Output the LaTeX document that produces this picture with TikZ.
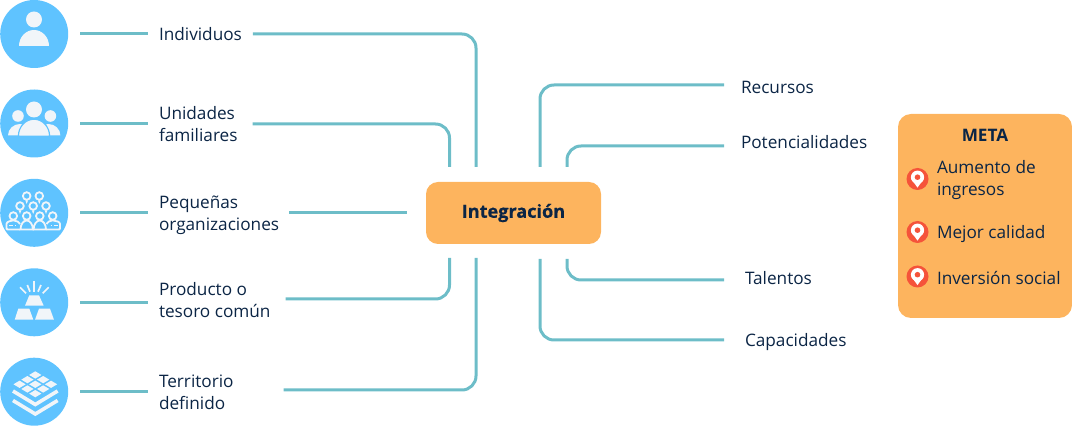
\documentclass[tikz,border=0pt]{standalone}
\usepackage{fontspec}
\setmainfont{Open Sans}
\usetikzlibrary{calc}
\definecolor{teal1}{HTML}{6DBDC8}
\definecolor{sky1}{HTML}{5FC3FF}
\definecolor{orange1}{HTML}{FDB45E}
\definecolor{ink1}{HTML}{0B2545}
\definecolor{pinred}{HTML}{F5533A}
\definecolor{iconw}{HTML}{F1F5F9}
\newcommand{\halfdisc}[4]{({#1-#3},{#2}) .. controls ({#1-#3},{#2-.55*#4}) and ({#1-.55*#3},{#2-#4}) .. ({#1},{#2-#4}) .. controls ({#1+.55*#3},{#2-#4}) and ({#1+#3},{#2-.55*#4}) .. ({#1+#3},{#2}) -- cycle}
\tikzset{
  x=1pt,y=-1pt,
  link/.style={draw=teal1,line width=3pt,rounded corners=14pt},
  lab/.style={anchor=west,inner sep=0pt,outer sep=0pt,align=left,text=ink1,font=\fontsize{17.2}{22}\selectfont},
  disc/.style={circle,fill=sky1,minimum size=68pt,inner sep=0pt,outer sep=0pt},
  hubbox/.style={rounded corners=12pt,fill=orange1,minimum width=175pt,minimum height=62pt,inner sep=0pt,outer sep=0pt,text=ink1,font=\fontsize{18.1}{20}\selectfont\bfseries\addfontfeature{FakeBold=0.6}},
  metabox/.style={rounded corners=13pt,fill=orange1,minimum width=174pt,minimum height=204pt,inner sep=0pt,outer sep=0pt},
  metahead/.style={inner sep=0pt,outer sep=0pt,text=ink1,font=\fontsize{17.2}{20}\selectfont\bfseries},
  pinnode/.style={circle,fill=pinred,minimum size=22pt,inner sep=0pt,outer sep=0pt},
  ic/.style={fill=iconw},
  icl/.style={draw=iconw,line width=1.8pt},
  ray/.style={draw=iconw,line width=1.7pt},
  chev/.style={draw=iconw,line width=3.6pt,miter limit=10}
}
\newcommand{\pinmark}[1]{%
  \fill[white] ($(#1.center)+(0,-1.8)$) circle (6.6);
  \fill[white] ($(#1.center)+(-6.2,0)$) -- ($(#1.center)+(0,8.6)$) -- ($(#1.center)+(6.2,0)$) -- cycle;
  \fill[pinred] ($(#1.center)+(0,-1.8)$) circle (2.8);}
\begin{document}
\begin{tikzpicture}
\useasboundingbox (0,0) rectangle (1072,427);
% discs
\node[disc] (c1) at (34.2,34) {};
\node[disc] (c2) at (34.2,123.5) {};
\node[disc] (c3) at (34.2,212.8) {};
\node[disc] (c4) at (34.2,302.3) {};
\node[disc] (c5) at (34.2,391.7) {};
% labels
\node[lab] (t1) at (159,34.5) {Individuos};
\node[lab] (t2) at (159,124) {Unidades\\familiares};
\node[lab] (t3) at (159,215) {Pequeñas\\organizaciones};
\node[lab] (t4) at (159,300) {Producto o\\tesoro común};
\node[lab] (t5) at (159,392) {Territorio\\definido};
\node[lab] (r1) at (741,87) {Recursos};
\node[lab] (r2) at (741,142.5) {Potencialidades};
\node[lab] (r3) at (745,278) {Talentos};
\node[lab] (r4) at (745,342) {Capacidades};
% hub
\node[hubbox] (hub) at (513.5,213) {\raisebox{-.5pt}{Integración}};
% ends beside the hub
\coordinate (a1) at ($(hub.north)+(-37.5,-15)$);
\coordinate (a2) at ($(hub.north)+(-64,-15)$);
\coordinate (a3) at ($(hub.north)+(26.5,-15)$);
\coordinate (a4) at ($(hub.north)+(53.5,-15)$);
\coordinate (b1) at ($(hub.south)+(-37.5,14)$);
\coordinate (b2) at ($(hub.south)+(-64,14)$);
\coordinate (b3) at ($(hub.south)+(26.5,15)$);
\coordinate (b4) at ($(hub.south)+(53.5,15)$);
% disc to label
\foreach \n in {1,...,5}{
  \draw[link] ($(c\n.east)+(11.8,0)$) -- ($(t\n.west |- c\n.east)+(-11.5,0)$);
}
% label to hub
\draw[link] (t1.east |- 0,34) ++(11,0) -| (a1);
\draw[link] (t2.east |- 0,124) ++(15,0) -| (a2);
\draw[link] ($(t3.east |- hub.west)+(10,0)$) -- ($(hub.west)+(-19,0)$);
\draw[link] (t4.east |- 0,299) ++(15,0) -| (b2);
\draw[link] (t5.east |- 0,390) ++(50,0) -| (b1);
% hub to label
\draw[link] (a3) |- ($(r1.west |- 0,85)+(-17,0)$);
\draw[link] (a4) |- ($(r2.west |- 0,146)+(-17,0)$);
\draw[link] (b4) |- ($(r3.west |- 0,280)+(-21,0)$);
\draw[link] (b3) |- ($(r4.west |- 0,340)+(-21,0)$);
% meta
\node[metabox] (meta) at (985,216) {};
\node[metahead] (mh) at (985,135) {META};
\node[pinnode] (p1) at (917.5,179) {};
\node[pinnode] (p2) at (917.5,232) {};
\node[pinnode] (p3) at (917.5,276.5) {};
\pinmark{p1}\pinmark{p2}\pinmark{p3}
\node[lab] (m1) at (937,180) {Aumento de\\ingresos};
\node[lab] (m2) at (937,234.5) {Mejor calidad};
\node[lab] (m3) at (937,277.5) {Inversión social};
% icon 1: person
\fill[ic] (34,19.5) circle (8);
\fill[ic] \halfdisc{34}{46}{15}{16};
% icon 2: family
\fill[ic] (18,116) circle (5.8);
\fill[ic] (50.4,116) circle (5.8);
\fill[ic] \halfdisc{20}{135.5}{12}{11.5};
\fill[ic] \halfdisc{48.4}{135.5}{12}{11.5};
\fill[ic] (34,109.5) circle (8);
\fill[ic,draw=sky1,line width=1.2pt] \halfdisc{34}{136.2}{15.6}{17};
\fill[sky1] (6,135.7) rectangle (62,139);
% icon 3: crowd
\foreach \hx/\hy in {26.7/196,39.3/196,20/206,33.2/206,46/206,13.3/216,26.7/216,39.8/216,52.7/216}{
  \draw[icl] (\hx,\hy) circle (3.8);
}
\foreach \hx in {26.7,39.8}{
  \draw[icl] \halfdisc{\hx}{229.5}{6.2}{9};
}
\draw[icl,rounded corners=1pt] (20,229.5) -- (6.5,229.5) -- (6.5,225) .. controls (6.5,222) and (10,220.6) .. (13.3,220.6) .. controls (16.6,220.6) and (19,222) .. (20,224);
\draw[icl,rounded corners=1pt] (46.5,229.5) -- (60,229.5) -- (60,225) .. controls (60,222) and (56.5,220.6) .. (52.7,220.6) .. controls (50,220.6) and (47.5,222) .. (46.5,224);
\draw[icl] (9,225.5) -- (13,225.5) (15,225.5) -- (16,225.5) (50.5,225.5) -- (51.5,225.5) (53.5,225.5) -- (57.5,225.5);
\fill[ic] (18.7,210.5) -- (21.3,210.5) -- (20,214) -- cycle;
\fill[ic] (31.9,210.5) -- (34.5,210.5) -- (33.2,214) -- cycle;
\fill[ic] (44.7,210.5) -- (47.3,210.5) -- (46,214) -- cycle;
\fill[ic] (25.4,200.5) -- (28,200.5) -- (26.7,204) -- cycle;
\fill[ic] (38,200.5) -- (40.6,200.5) -- (39.3,204) -- cycle;
% icon 4: gold
\fill[ic] (29.3,295.3) -- (39,295.3) -- (43.7,305.7) -- (25,305.7) -- cycle;
\fill[ic] (18.3,308.7) -- (29.3,308.7) -- (33.3,319.7) -- (14.7,319.7) -- cycle;
\fill[ic] (39,308.7) -- (50,308.7) -- (54,319.7) -- (35,319.7) -- cycle;
\draw[ray] (34,281) -- (34,292);
\draw[ray] (27.3,285) -- (30,291.7);
\draw[ray] (41,285) -- (38,291.7);
\draw[ray] (20,287.3) -- (26,293.3);
\draw[ray] (48.7,287.3) -- (42.7,293.3);
% icon 5: layers
\begin{scope}[shift={(35.3,384.3)},x={(7.87pt,-4.67pt)},y={(7.87pt,4.67pt)}]
\foreach \i in {-1.5,-.5,.5}{\foreach \j in {-1.5,-.5,.5}{
  \fill[ic] ({\i+.11},{\j+.11}) -- ({\i+.89},{\j+.11}) -- ({\i+.89},{\j+.89}) -- ({\i+.11},{\j+.89}) -- cycle;
}}
\end{scope}
\draw[chev] (13,391) -- (35.3,404.5) -- (57.6,391);
\draw[chev] (13,400.5) -- (35.3,414) -- (57.6,400.5);
\end{tikzpicture}
\end{document}
